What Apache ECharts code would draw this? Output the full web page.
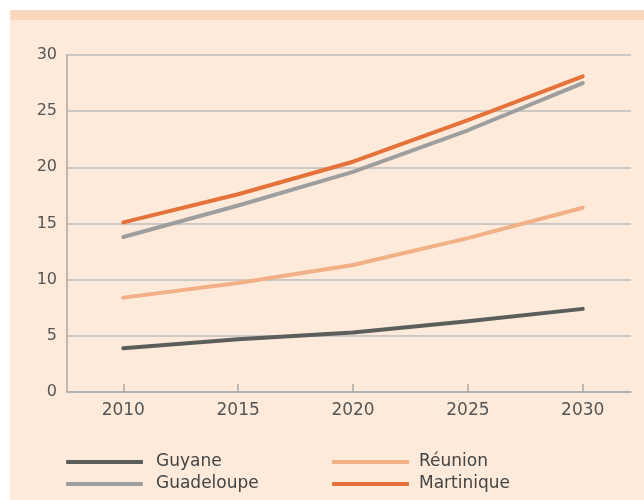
<!DOCTYPE html>
<html>
<head>
<meta charset="utf-8">
<script src="https://cdn.jsdelivr.net/npm/echarts@6/dist/echarts.min.js"></script>
<style>
  html, body { margin: 0; padding: 0; background: #ffffff; }
  #chart { width: 644px; height: 500px; }
</style>
</head>
<body>
<div id="chart"></div>
<script>
const YEARS = [2010, 2015, 2020, 2025, 2030];

const guyane     = [3.9, 4.7, 5.3, 6.3, 7.4];
const reunion    = [8.4, 9.7, 11.3, 13.7, 16.4];
const guadeloupe = [13.8, 16.6, 19.6, 23.3, 27.5];
const martinique = [15.1, 17.6, 20.5, 24.2, 28.1];

const COLORS = {
  guyane: '#5a5f5c',
  reunion: '#f2b086',
  guadeloupe: '#9e9e9e',
  martinique: '#e4723a',
};

const FONT = 'DejaVu Sans';

function pairs(values) {
  return YEARS.map((y, i) => [y, values[i]]);
}

function lineSeries(name, values, color) {
  return {
    name, type: 'line', showSymbol: false, symbol: 'none',
    lineStyle: { width: 4, color, cap: 'round', join: 'round' },
    itemStyle: { color },
    data: pairs(values),
  };
}

function legendBlock(left, names, gap) {
  return {
    left, top: 448, orient: 'vertical', itemGap: 4,
    itemWidth: 77, itemHeight: 4, icon: 'roundRect',
    data: names,
    textStyle: { color: '#444', fontFamily: FONT, fontSize: 17,
      lineHeight: 18, padding: [0, 0, 0, gap] },
  };
}

const chart = echarts.init(document.getElementById('chart'));

chart.setOption({
  backgroundColor: '#ffffff',
  animation: false,
  graphic: [
    { type: 'rect', z: -10, shape: { x: 10, y: 10, width: 634, height: 490 },
      style: { fill: '#fdeadb' } },
    { type: 'rect', z: -9, shape: { x: 10, y: 10, width: 634, height: 10 },
      style: { fill: '#f9d8bd' } },
  ],
  grid: { left: 67, right: 13, top: 55, bottom: 108 },
  xAxis: {
    type: 'value', min: 2007.55, max: 2032.1,
    splitLine: { show: false },
    axisLine: { lineStyle: { color: '#a9a9a9', width: 1.5 } },
    axisTick: { show: true, inside: true, length: 8, customValues: YEARS,
      lineStyle: { color: '#a9a9a9', width: 1.5 } },
    axisLabel: { customValues: YEARS, margin: 10, color: '#555',
      fontFamily: FONT, fontSize: 17, formatter: (v) => String(v) },
  },
  yAxis: {
    type: 'value', min: 0, max: 30, interval: 5,
    axisLine: { show: true, lineStyle: { color: '#a9a9a9', width: 1.5 } },
    axisTick: { show: false },
    splitLine: { lineStyle: { color: '#bdbdbd', width: 1.5 } },
    axisLabel: { margin: 10, color: '#555', fontFamily: FONT, fontSize: 16 },
  },
  legend: [
    legendBlock(61, ['Guyane', 'Guadeloupe'], 8),
    legendBlock(327, ['Réunion', 'Martinique'], 5),
  ],
  series: [
    lineSeries('Guyane', guyane, COLORS.guyane),
    lineSeries('Réunion', reunion, COLORS.reunion),
    lineSeries('Guadeloupe', guadeloupe, COLORS.guadeloupe),
    lineSeries('Martinique', martinique, COLORS.martinique),
  ],
});
</script>
</body>
</html>
